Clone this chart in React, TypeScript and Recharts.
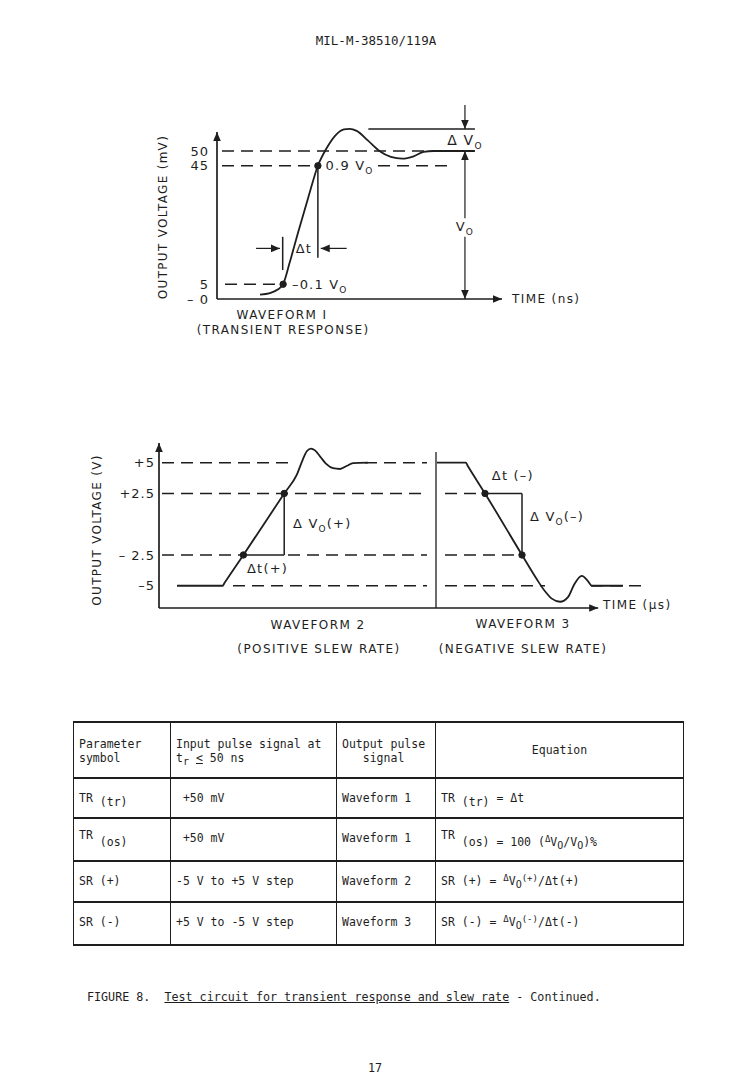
import React from 'react';
import { LineChart, Line, XAxis, YAxis, ReferenceLine, ReferenceDot } from 'recharts';

const INK = '#1e1e1e';
const SANS = "'DejaVu Sans', 'Liberation Sans', sans-serif";
const MONO = "'DejaVu Sans Mono', 'Liberation Mono', monospace";
const DASH = '12 7';

// waveform 1 - transient response (relative time, output in mV)
const wf1Time = [15.1, 18.6, 21.3, 23.2, 25.5, 28.5, 32, 35.4, 38.5, 41.5, 44.5, 46.5, 49, 53, 57, 61, 65, 69, 72.5, 76, 90.5];
const wf1Out = [1.5, 2.0, 3.2, 5, 12.3, 22.6, 34.2, 45, 51, 55.2, 57.3, 57.5, 56.8, 53.5, 50, 48, 47.4, 48.2, 49.7, 50, 50];
const wf1Ticks = [0, 5, 45, 50];

// waveform 2 - positive slew rate (relative time, output in V)
const wf2Time = [4.5, 15.9, 16.4, 21.1, 31.3, 34.5, 36.0, 37.0, 38.0, 39.0, 40.3, 41.8, 43.5, 45.25, 47, 48.5, 52.25];
const wf2Out = [-5, -5, -4.76, -2.5, 2.5, 4.06, 5.3, 5.95, 6.15, 6.0, 5.5, 4.9, 4.55, 4.49, 4.75, 4.97, 5.0];

// waveform 3 - negative slew rate
const wf3Time = [69.5, 76.7, 77.2, 81.5, 90.75, 94.5, 96.5, 98.2, 100.25, 102.3, 103.8, 105.7, 107.2, 108.2, 116];
const wf3Out = [5, 5, 4.73, 2.5, -2.5, -4.5, -5.45, -6.05, -6.3, -5.9, -4.9, -4.2, -4.6, -5, -5];
const slewTicks = [-5, -2.5, 2.5, 5];

const zip = (ts: number[], vs: number[]) => ts.map((t, i) => ({ t, v: vs[i] }));
const wf1 = zip(wf1Time, wf1Out);
const wf2 = zip(wf2Time, wf2Out);
const wf3 = zip(wf3Time, wf3Out);

const fmt1 = (v: number) => (v === 0 ? '– 0' : String(v));
const fmt2 = (v: number) => (v > 0 ? `+${v}` : v === -5 ? '–5' : `– ${-v}`);

// arrowhead drawn with its tip on the reference point
const arrow = (dir: 'up' | 'down' | 'left' | 'right') => (p: any) => {
  const { cx, cy } = p;
  const L = 9, W = 3.8;
  let pts = '';
  if (dir === 'up') pts = `${cx},${cy} ${cx - W},${cy + L} ${cx + W},${cy + L}`;
  if (dir === 'down') pts = `${cx},${cy} ${cx - W},${cy - L} ${cx + W},${cy - L}`;
  if (dir === 'right') pts = `${cx},${cy} ${cx - L},${cy - W} ${cx - L},${cy + W}`;
  if (dir === 'left') pts = `${cx},${cy} ${cx + L},${cy - W} ${cx + L},${cy + W}`;
  return <polygon points={pts} fill={INK} />;
};

const note = (content: React.ReactNode, o: { anchor?: string; size?: number; ls?: number; rot?: boolean } = {}) =>
  (p: any) => (
    <text
      x={p.cx}
      y={p.cy}
      dy="0.36em"
      textAnchor={o.anchor ?? 'start'}
      fontFamily={SANS}
      fontSize={o.size ?? 12}
      letterSpacing={o.ls ?? 1.2}
      fill={INK}
      transform={o.rot ? `rotate(-90 ${p.cx} ${p.cy})` : undefined}
    >
      {content}
    </text>
  );

// subscript "O" then optional trailing text back on the baseline
const Sub = ({ s, rest }: { s: string; rest?: string }) => (
  <>
    <tspan dy={4} fontSize={9}>{s}</tspan>
    {rest ? <tspan dy={-4}>{rest}</tspan> : null}
  </>
);

const seg = (x1: number, y1: number, x2: number, y2: number, dashed = false, w = 1.5) => (
  <ReferenceLine
    key={`${x1}-${y1}-${x2}-${y2}`}
    segment={[{ x: x1, y: y1 }, { x: x2, y: y2 }]}
    stroke={INK}
    strokeWidth={w}
    strokeDasharray={dashed ? DASH : undefined}
    ifOverflow="visible"
  />
);

const pin = (x: number, y: number, shape: any, key: string) => (
  <ReferenceDot key={key} x={x} y={y} r={0} ifOverflow="visible" shape={shape} />
);

const tickStyle = { fill: INK, fontSize: 13, fontFamily: SANS, letterSpacing: 1 };

function TransientChart() {
  return (
    <LineChart width={748} height={360} margin={{ top: 91.8, right: 246, bottom: 61, left: 177 }}>
      <XAxis type="number" dataKey="t" domain={[0, 100]} hide />
      <YAxis
        type="number"
        domain={[0, 70]}
        ticks={wf1Ticks}
        interval={0}
        tickFormatter={fmt1}
        width={40}
        axisLine={false}
        tickLine={false}
        tickSize={0}
        tickMargin={8}
        tick={tickStyle}
      />
      {seg(0, 0, 0, 56.4, false, 1.7)}
      {seg(0, 0, 100, 0, false, 1.7)}
      {pin(0, 56.4, arrow('up'), 'ay')}
      {pin(100, 0, arrow('right'), 'ax')}
      {seg(1.75, 50, 78, 50, true)}
      {seg(1.75, 45, 34.7, 45, true)}
      {seg(56.5, 45, 81.8, 45, true)}
      {seg(2.8, 5, 23.2, 5, true)}
      {seg(35.4, 45, 35.4, 13.9)}
      {seg(23.05, 21, 23.05, 9.8)}
      {seg(13.7, 17.1, 22.1, 17.1, false, 1.2)}
      {pin(22.1, 17.1, arrow('right'), 'dtl')}
      {seg(45.5, 17.1, 36.4, 17.1, false, 1.2)}
      {pin(36.4, 17.1, arrow('left'), 'dtr')}
      {seg(53.1, 57.4, 90.5, 57.4)}
      {seg(87, 65.5, 87, 57.4, false, 1.2)}
      {pin(87, 57.4, arrow('down'), 'dvo')}
      {seg(87, 50, 87, 27.3, false, 1.2)}
      {seg(87, 21, 87, 0, false, 1.2)}
      {pin(87, 50, arrow('up'), 'vou')}
      {pin(87, 0, arrow('down'), 'vod')}
      <Line data={wf1} dataKey="v" type="monotone" stroke={INK} strokeWidth={1.8} dot={false} isAnimationActive={false} />
      <ReferenceDot x={23.2} y={5} r={3.2} fill={INK} stroke={INK} />
      <ReferenceDot x={35.4} y={45} r={3.2} fill={INK} stroke={INK} />
      {pin(38.1, 45, note(<>0.9 V<Sub s="O" /></>, { size: 13 }), 't09')}
      {pin(26.3, 5, note(<>–0.1 V<Sub s="O" /></>, { size: 13 }), 't01')}
      {pin(30.5, 17.1, note('Δt', { anchor: 'middle', size: 13 }), 'tdt')}
      {pin(87, 53.7, note(<>Δ V<Sub s="O" /></>, { anchor: 'middle', size: 14 }), 'tdv')}
      {pin(87, 24.4, note(<>V<Sub s="O" /></>, { anchor: 'middle', size: 13 }), 'tvo')}
      {pin(103.5, 0, note('TIME (ns)', { ls: 1.4 }), 'tx')}
      {pin(22.8, -5.4, note('WAVEFORM I', { anchor: 'middle', ls: 1.4 }), 'w1')}
      {pin(23.2, -10.5, note('(TRANSIENT RESPONSE)', { anchor: 'middle', ls: 1.4 }), 'w1b')}
      {pin(-18.9, 27.7, note('OUTPUT VOLTAGE (mV)', { anchor: 'middle', rot: true, ls: 1.3 }), 'ty')}
    </LineChart>
  );
}

function SlewChart() {
  return (
    <LineChart width={748} height={280} margin={{ top: 38.1, right: 89, bottom: 72, left: 119 }}>
      <XAxis type="number" dataKey="t" domain={[0, 125]} hide />
      <YAxis
        type="number"
        domain={[-6.81, 7]}
        ticks={slewTicks}
        interval={0}
        tickFormatter={fmt2}
        width={40}
        axisLine={false}
        tickLine={false}
        tickSize={0}
        tickMargin={4}
        tick={tickStyle}
      />
      {seg(0, -6.81, 0, 6.6, false, 1.7)}
      {seg(0, -6.81, 109.8, -6.81, false, 1.7)}
      {pin(0, 6.6, arrow('up'), 'ay')}
      {pin(109.8, -6.81, arrow('right'), 'ax')}
      {seg(69.25, -6.81, 69.25, 5.87, false, 1.3)}
      {seg(0.75, 5, 33.5, 5, true)}
      {seg(51.5, 5, 67, 5, true)}
      {seg(0.75, 2.5, 67, 2.5, true)}
      {seg(71.5, 2.5, 80.7, 2.5, true)}
      {seg(0.75, -2.5, 21, -2.5, true)}
      {seg(32.25, -2.5, 67, -2.5, true)}
      {seg(71.5, -2.5, 90.25, -2.5, true)}
      {seg(18.5, -5, 67, -5, true)}
      {seg(71.5, -5, 96.5, -5, true)}
      {seg(108, -5, 120.75, -5, true)}
      {seg(21.1, -2.5, 31.3, -2.5)}
      {seg(31.3, -2.5, 31.3, 2.5)}
      {seg(81.5, 2.5, 90.75, 2.5)}
      {seg(90.75, 2.5, 90.75, -2.5)}
      <Line data={wf2} dataKey="v" type="monotone" stroke={INK} strokeWidth={1.8} dot={false} isAnimationActive={false} />
      <Line data={wf3} dataKey="v" type="monotone" stroke={INK} strokeWidth={1.8} dot={false} isAnimationActive={false} />
      <ReferenceDot x={21.1} y={-2.5} r={3.2} fill={INK} stroke={INK} />
      <ReferenceDot x={31.3} y={2.5} r={3.2} fill={INK} stroke={INK} />
      <ReferenceDot x={81.5} y={2.5} r={3.2} fill={INK} stroke={INK} />
      <ReferenceDot x={90.75} y={-2.5} r={3.2} fill={INK} stroke={INK} />
      {pin(33.5, 0.1, note(<>Δ V<Sub s="O" rest="(+)" /></>, { size: 13 }), 'dvp')}
      {pin(22, -3.55, note('Δt(+)', { size: 13 }), 'dtp')}
      {pin(83.2, 4.0, note('Δt (–)', { size: 13 }), 'dtm')}
      {pin(92.75, 0.67, note(<>Δ V<Sub s="O" rest="(–)" /></>, { size: 13 }), 'dvm')}
      {pin(111, -6.57, note('TIME (μs)', { ls: 1.4 }), 'tx')}
      {pin(39.75, -8.2, note('WAVEFORM 2', { anchor: 'middle', ls: 1.4 }), 'w2')}
      {pin(40, -10.1, note('(POSITIVE SLEW RATE)', { anchor: 'middle', ls: 1.4 }), 'w2b')}
      {pin(91, -8.1, note('WAVEFORM 3', { anchor: 'middle', ls: 1.4 }), 'w3')}
      {pin(91, -10.1, note('(NEGATIVE SLEW RATE)', { anchor: 'middle', ls: 1.4 }), 'w3b')}
      {pin(-15.5, -0.47, note('OUTPUT VOLTAGE (V)', { anchor: 'middle', rot: true, ls: 1.3 }), 'ty')}
    </LineChart>
  );
}

const Lo = ({ children }: { children: React.ReactNode }) => (
  <span style={{ position: 'relative', top: 4 }}>{children}</span>
);
const Up = ({ children }: { children: React.ReactNode }) => (
  <span style={{ position: 'relative', top: -4, fontSize: 9 }}>{children}</span>
);
const Dn = ({ children }: { children: React.ReactNode }) => (
  <span style={{ position: 'relative', top: 3, fontSize: 10 }}>{children}</span>
);

const colWidths = [97, 166, 99, 248];
const rowHeights = [40, 43, 41, 43];
const symbols = [
  <>TR <Lo>(tr)</Lo></>,
  <><span style={{ position: 'relative', top: -3 }}>TR</span> <Lo>(os)</Lo></>,
  <>SR (+)</>,
  <>SR (-)</>,
];
const inputs = [' +50 mV', ' +50 mV', '-5 V to +5 V step', '+5 V to -5 V step'];
const outputs = ['Waveform 1', 'Waveform 1', 'Waveform 2', 'Waveform 3'];
const equations = [
  <>TR <Lo>(tr)</Lo> = Δt</>,
  <><span style={{ position: 'relative', top: -3 }}>TR</span> <Lo>(os) = 100 (<Up>Δ</Up>V<Dn>O</Dn>/V<Dn>O</Dn>)%</Lo></>,
  <>SR (+) = <Up>Δ</Up>V<Dn>O</Dn><Up>(+)</Up>/Δt(+)</>,
  <>SR (-) = <Up>Δ</Up>V<Dn>O</Dn><Up>(-)</Up>/Δt(-)</>,
];

const cell: React.CSSProperties = {
  borderLeft: `1px solid ${INK}`,
  borderTop: `2px solid ${INK}`,
  borderBottom: `2px solid ${INK}`,
  padding: '12px 0 0 5px',
  verticalAlign: 'top',
  whiteSpace: 'pre',
  lineHeight: '14px',
};

function ParamTable() {
  return (
    <table
      style={{
        position: 'absolute',
        left: 73,
        top: 721,
        width: 610,
        borderCollapse: 'collapse',
        tableLayout: 'fixed',
        fontFamily: MONO,
        fontSize: 11.5,
        color: INK,
      }}
    >
      <colgroup>
        {colWidths.map((w, i) => <col key={i} style={{ width: w }} />)}
      </colgroup>
      <tbody>
        <tr style={{ height: 56 }}>
          <td style={{ ...cell, paddingTop: 14 }}>Parameter{'\n'}symbol</td>
          <td style={{ ...cell, paddingTop: 14 }}>Input pulse signal at{'\n'}t<Dn>r</Dn> <u>&lt;</u> 50 ns</td>
          <td style={{ ...cell, paddingTop: 14 }}>Output pulse{'\n'}   signal</td>
          <td style={{ ...cell, borderRight: `1px solid ${INK}`, textAlign: 'center', verticalAlign: 'middle', padding: 0 }}>Equation</td>
        </tr>
        {symbols.map((s, i) => (
          <tr key={i} style={{ height: rowHeights[i] }}>
            <td style={cell}>{s}</td>
            <td style={cell}>{inputs[i]}</td>
            <td style={cell}>{outputs[i]}</td>
            <td style={{ ...cell, borderRight: `1px solid ${INK}` }}>{equations[i]}</td>
          </tr>
        ))}
      </tbody>
    </table>
  );
}

export default function App() {
  return (
    <div style={{ position: 'absolute', left: 0, top: 0, width: 748, height: 1077, background: '#fff', overflow: 'hidden', color: INK }}>
      <div style={{ position: 'absolute', left: 0, top: 33, width: 748, textAlign: 'center', fontFamily: MONO, fontSize: 12.5, lineHeight: '16px', paddingLeft: 4, boxSizing: 'border-box' }}>
        MIL-M-38510/119A
      </div>
      <div style={{ position: 'absolute', left: 0, top: 0 }}>
        <TransientChart />
      </div>
      <div style={{ position: 'absolute', left: 0, top: 400 }}>
        <SlewChart />
      </div>
      <ParamTable />
      <div style={{ position: 'absolute', left: 87, top: 990, fontFamily: MONO, fontSize: 11.7, lineHeight: '14px', whiteSpace: 'pre' }}>
        FIGURE 8.  <u>Test circuit for transient response and slew rate</u> - Continued.
      </div>
      <div style={{ position: 'absolute', left: 0, top: 1061, width: 748, textAlign: 'center', fontFamily: MONO, fontSize: 11.7, lineHeight: '14px', paddingLeft: 2, boxSizing: 'border-box' }}>
        17
      </div>
    </div>
  );
}
